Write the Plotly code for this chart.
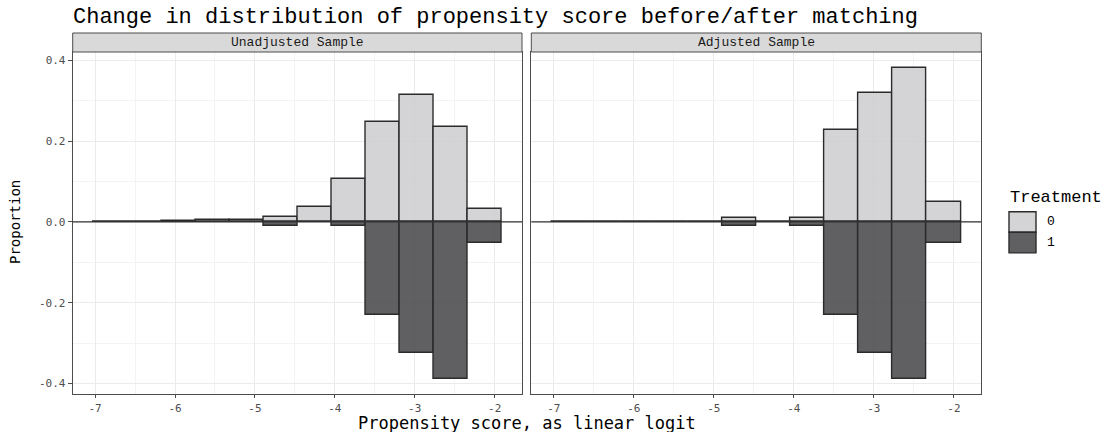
import plotly.graph_objects as go

# Histogram bins of the linear-logit propensity score
bin_centers = [-6.812, -6.386, -5.960, -5.534, -5.108, -4.682,
               -4.256, -3.830, -3.404, -2.978, -2.552, -2.126]
bin_width = 0.426

panel_names = ["Unadjusted Sample", "Adjusted Sample"]
treatment_levels = ["0", "1"]

# Proportions per bin (control plotted upward, treated downward)
control_unadjusted = [0.001, 0.001, 0.002, 0.006, 0.006, 0.012,
                      0.038, 0.107, 0.247, 0.315, 0.236, 0.032]
treated_unadjusted = [0.0, 0.0, 0.0, 0.0, 0.0, 0.011,
                      0.0, 0.010, 0.231, 0.324, 0.388, 0.053]
control_adjusted = [0.0, 0.0, 0.0, 0.0, 0.0, 0.010,
                    0.0, 0.010, 0.227, 0.320, 0.382, 0.050]
treated_adjusted = [0.0, 0.0, 0.0, 0.0, 0.0, 0.011,
                    0.0, 0.010, 0.231, 0.324, 0.388, 0.053]

x_tick_vals = [-7, -6, -5, -4, -3, -2]
x_tick_text = ["-7", "-6", "-5", "-4", "-3", "-2"]
y_tick_vals = [0.4, 0.2, 0.0, -0.2, -0.4]
y_tick_text = ["0.4", "0.2", "0.0", "-0.2", "-0.4"]

W, H = 1114, 432
fill_light = "rgba(204,205,207,0.85)"
fill_dark = "rgba(68,68,70,0.85)"
edge = "#2b2b2b"
mono = "Liberation Mono, DejaVu Sans Mono, monospace"
mono2 = "DejaVu Sans Mono, Liberation Mono, monospace"

# panel geometry in pixels
panel_x = [(72.7, 522.0), (531.3, 981.3)]
panel_top, panel_bottom = 52.0, 394.3
strip_top = 33.0


def px_x(p):
    return p / W


def px_y(p):
    return 1 - p / H


# ggplot-style 5% expansion of the data range
edges_lo = min(bin_centers) - bin_width / 2
edges_hi = max(bin_centers) + bin_width / 2
xpad = 0.05 * (edges_hi - edges_lo)
x_range = [edges_lo - xpad, edges_hi + xpad]
all_vals = control_unadjusted + control_adjusted + [-v for v in treated_unadjusted + treated_adjusted]
ymin, ymax = min(all_vals), max(all_vals)
ypad = 0.05 * (ymax - ymin)
y_range = [ymin - ypad, ymax + ypad]

fig = go.Figure()
series = [(control_unadjusted, treated_unadjusted), (control_adjusted, treated_adjusted)]
for i, (ctrl, trt) in enumerate(series):
    xa = "x" if i == 0 else "x2"
    ya = "y" if i == 0 else "y2"
    fig.add_trace(go.Bar(x=bin_centers, y=ctrl, width=bin_width, xaxis=xa, yaxis=ya,
                         marker=dict(color=fill_light, line=dict(color=edge, width=1.4)),
                         name=treatment_levels[0], showlegend=False, hoverinfo="x+y"))
    fig.add_trace(go.Bar(x=bin_centers, y=[-v for v in trt], width=bin_width, xaxis=xa, yaxis=ya,
                         marker=dict(color=fill_dark, line=dict(color=edge, width=1.4)),
                         name=treatment_levels[1], showlegend=False, hoverinfo="x+y"))

axis_common = dict(
    showline=True, mirror=True, linecolor="#4d4d4d", linewidth=1,
    tickcolor="#4d4d4d", tickwidth=1,
    showgrid=True, gridcolor="#ebebeb", gridwidth=1,
    zeroline=False,
    tickfont=dict(family=mono2, size=11, color="#4d4d4d"),
)
x_minor = dict(dtick=0.5, tick0=-7, showgrid=True, gridcolor="#f3f3f3", gridwidth=0.6, ticks="")
y_minor = dict(dtick=0.1, tick0=0, showgrid=True, gridcolor="#f3f3f3", gridwidth=0.6, ticks="")

ydom = [px_y(panel_bottom), px_y(panel_top)]
fig.update_layout(
    width=W, height=H,
    margin=dict(l=0, r=0, t=0, b=0),
    paper_bgcolor="white", plot_bgcolor="white",
    barmode="overlay", bargap=0,
    showlegend=False,
    xaxis=dict(domain=[px_x(panel_x[0][0]), px_x(panel_x[0][1])], range=x_range, anchor="y",
               ticks="outside", ticklen=3, ticklabelstandoff=0,
               tickvals=x_tick_vals, ticktext=x_tick_text, minor=x_minor, **axis_common),
    xaxis2=dict(domain=[px_x(panel_x[1][0]), px_x(panel_x[1][1])], range=x_range, anchor="y2",
                ticks="outside", ticklen=3, ticklabelstandoff=0,
                tickvals=x_tick_vals, ticktext=x_tick_text, minor=x_minor, **axis_common),
    yaxis=dict(domain=ydom, range=y_range, anchor="x", ticks="outside", ticklen=4,
               tickvals=y_tick_vals, ticktext=y_tick_text, minor=y_minor, **axis_common),
    yaxis2=dict(domain=ydom, range=y_range, anchor="x2", matches="y", ticks="",
                tickvals=y_tick_vals, ticktext=y_tick_text, showticklabels=False,
                minor=y_minor, **axis_common),
)

shapes = []
annotations = []
for i, (x0, x1) in enumerate(panel_x):
    xr = "x domain" if i == 0 else "x2 domain"
    yr = "y" if i == 0 else "y2"
    # horizontal reference line at zero
    shapes.append(dict(type="line", xref=xr, yref=yr, x0=0, x1=1, y0=0, y1=0,
                       line=dict(color="#333333", width=1.2), layer="above"))
    # facet strip
    shapes.append(dict(type="rect", xref="paper", yref="paper",
                       x0=px_x(x0), x1=px_x(x1), y0=px_y(panel_top), y1=px_y(strip_top),
                       fillcolor="#d9d9d9", line=dict(color="#4d4d4d", width=1)))
    annotations.append(dict(text=panel_names[i], xref="paper", yref="paper",
                            x=px_x((x0 + x1) / 2), y=px_y((panel_top + strip_top) / 2),
                            xanchor="center", yanchor="middle", showarrow=False,
                            font=dict(family=mono, size=13, color="#1a1a1a")))

# title and axis titles
annotations.append(dict(text="Change in distribution of propensity score before/after matching",
                        xref="paper", yref="paper", x=px_x(71), y=px_y(17),
                        xanchor="left", yanchor="middle", showarrow=False,
                        font=dict(family=mono, size=22, color="black")))
annotations.append(dict(text="Propensity score, as linear logit", xref="paper", yref="paper",
                        x=px_x(527), y=px_y(423), xanchor="center", yanchor="middle",
                        showarrow=False, font=dict(family=mono2, size=17, color="black")))
annotations.append(dict(text="Proportion", xref="paper", yref="paper",
                        x=px_x(15), y=px_y(222), xanchor="center", yanchor="middle",
                        textangle=-90, showarrow=False,
                        font=dict(family=mono2, size=14, color="black")))

# legend
annotations.append(dict(text="Treatment", xref="paper", yref="paper",
                        x=px_x(1008), y=px_y(197), xanchor="left", yanchor="middle",
                        showarrow=False, font=dict(family=mono, size=17, color="black")))
legend_fills = [fill_light, fill_dark]
for k, lvl in enumerate(treatment_levels):
    top = 211.7 + k * 20.6
    shapes.append(dict(type="rect", xref="paper", yref="paper",
                       x0=px_x(1009), x1=px_x(1036), y0=px_y(top + 20.6), y1=px_y(top),
                       fillcolor=legend_fills[k], line=dict(color=edge, width=1.4)))
    annotations.append(dict(text=lvl, xref="paper", yref="paper",
                            x=px_x(1045), y=px_y(top + 10.3), xanchor="left", yanchor="middle",
                            showarrow=False, font=dict(family=mono, size=13, color="black")))

fig.update_layout(shapes=shapes, annotations=annotations)
fig.write_html("out.html")
